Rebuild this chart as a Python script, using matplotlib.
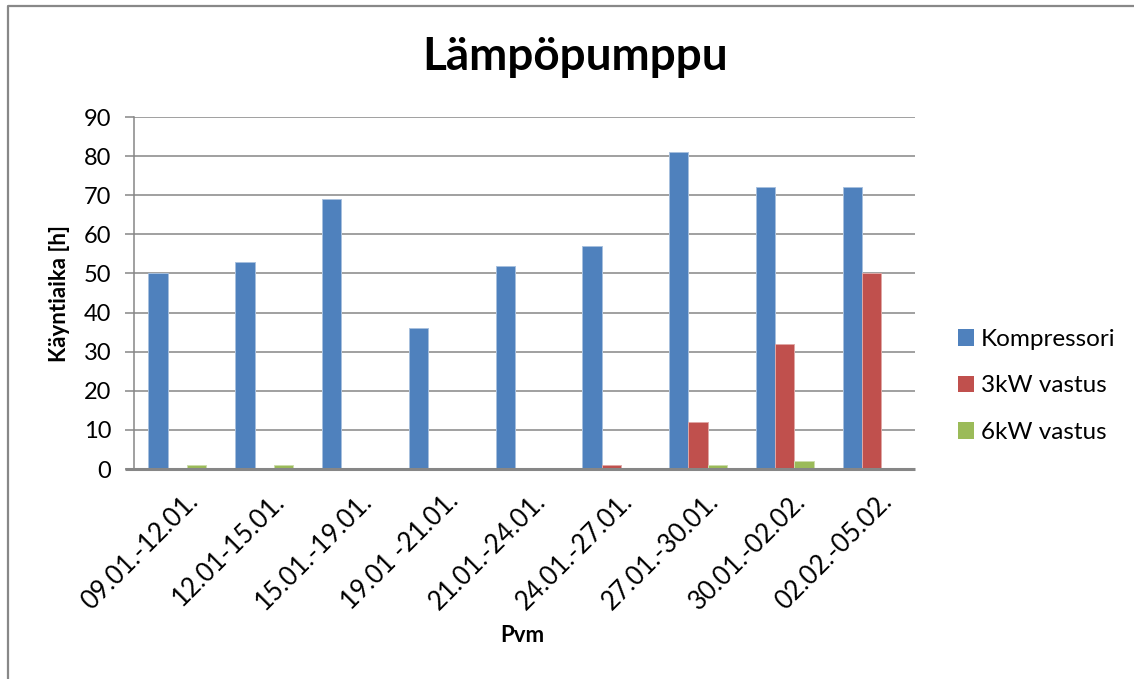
import matplotlib
matplotlib.use("Agg")
import matplotlib.pyplot as plt
import matplotlib.transforms as mtransforms
import numpy as np
from matplotlib.lines import Line2D
from matplotlib.patches import Patch

plt.rcParams['font.family'] = ['Lato', 'DejaVu Sans']

periods = ["09.01.-12.01.", "12.01-15.01.", "15.01.-19.01.", "19.01 -21.01.",
           "21.01.-24.01.", "24.01.-27.01.", "27.01.-30.01.", "30.01.-02.02.",
           "02.02.-05.02."]
kompressori = [50, 53, 69, 36, 52, 57, 81, 72, 72]
vastus_3kw = [0, 0, 0, 0, 0, 1, 12, 32, 50]
vastus_6kw = [1, 1, 0, 0, 0, 0, 1, 2, 0]
series_names = ["Kompressori", "3kW vastus", "6kW vastus"]
colors = ["#4F81BD", "#C0504D", "#9BBB59"]
edges = ["#A7C0DE", "#DFA8A6", "#CDDDAC"]

W, H = 1134, 679
fig = plt.figure(figsize=(W / 100, H / 100), dpi=100)
ax = fig.add_axes([134 / W, 1 - 469 / H, (915 - 134) / W, (469 - 117) / H])

x = np.arange(len(periods))
bw = 0.222
for i, (vals, c, ec) in enumerate(zip([kompressori, vastus_3kw, vastus_6kw], colors, edges)):
    ax.bar(x + (i - 1) * bw, vals, width=bw, color=c, edgecolor=ec, linewidth=0.7,
           label=series_names[i], zorder=3)

ax.set_xlim(-0.5, len(periods) - 0.5)
ax.set_ylim(0, 90)
ax.set_yticks(np.arange(0, 91, 10))
ax.grid(axis='y', color='#868686', linewidth=1.1, zorder=0)
ax.set_axisbelow(True)

for s in ['top', 'right']:
    ax.spines[s].set_visible(False)
ax.spines['left'].set_color('#868686')
ax.spines['left'].set_linewidth(1.1)
ax.spines['bottom'].set_visible(False)
# category axis line extends past the value axis like the tick marks
ax.plot([-0.5 - 9 / 86.8, len(periods) - 0.5], [0, 0], color='#868686', lw=2.2,
        clip_on=False, zorder=4, solid_capstyle='butt')

ax.tick_params(axis='y', direction='out', length=6.5, width=1.1, color='#868686',
               labelsize=17, pad=10)
ax.tick_params(axis='x', length=0, pad=14)
ax.set_xticks(x)
ax.set_xticklabels(periods, rotation=45, ha='right', va='top', rotation_mode='anchor',
                   fontsize=18.5)
shift = mtransforms.ScaledTranslation(0.08, 0, fig.dpi_scale_trans)
for lbl in ax.get_xticklabels():
    lbl.set_transform(lbl.get_transform() + shift)

ax.set_ylabel("Käyntiaika [h]", fontsize=16, fontweight='bold')
ax.yaxis.set_label_coords((60 - 134) / 781, 0.5)
ax.yaxis.label.set_va('center')
ax.set_xlabel("Pvm", fontsize=16, fontweight='bold')
ax.xaxis.set_label_coords((522 - 134) / 781, (469 - 635) / 352)
ax.xaxis.label.set_va('center')

fig.text(575 / W, 1 - 57 / H, "Lämpöpumppu", ha='center', va='center',
         fontsize=33, fontweight='bold')

handles = [Patch(facecolor=c, edgecolor='none') for c in colors]
fig.legend(handles, series_names, loc='center left', bbox_to_anchor=(936 / W, 1 - 386 / H),
           frameon=False, fontsize=17.5, handlelength=0.65, handleheight=0.65,
           handletextpad=0.3, labelspacing=1.05)

# outer chart border (left and top)
fig.add_artist(Line2D([7.5 / W, 7.5 / W, 1.0], [0.0, 1 - 5.5 / H, 1 - 5.5 / H],
                      transform=fig.transFigure, color='#888888', lw=1.6))

fig.savefig("out.png", dpi=100)
